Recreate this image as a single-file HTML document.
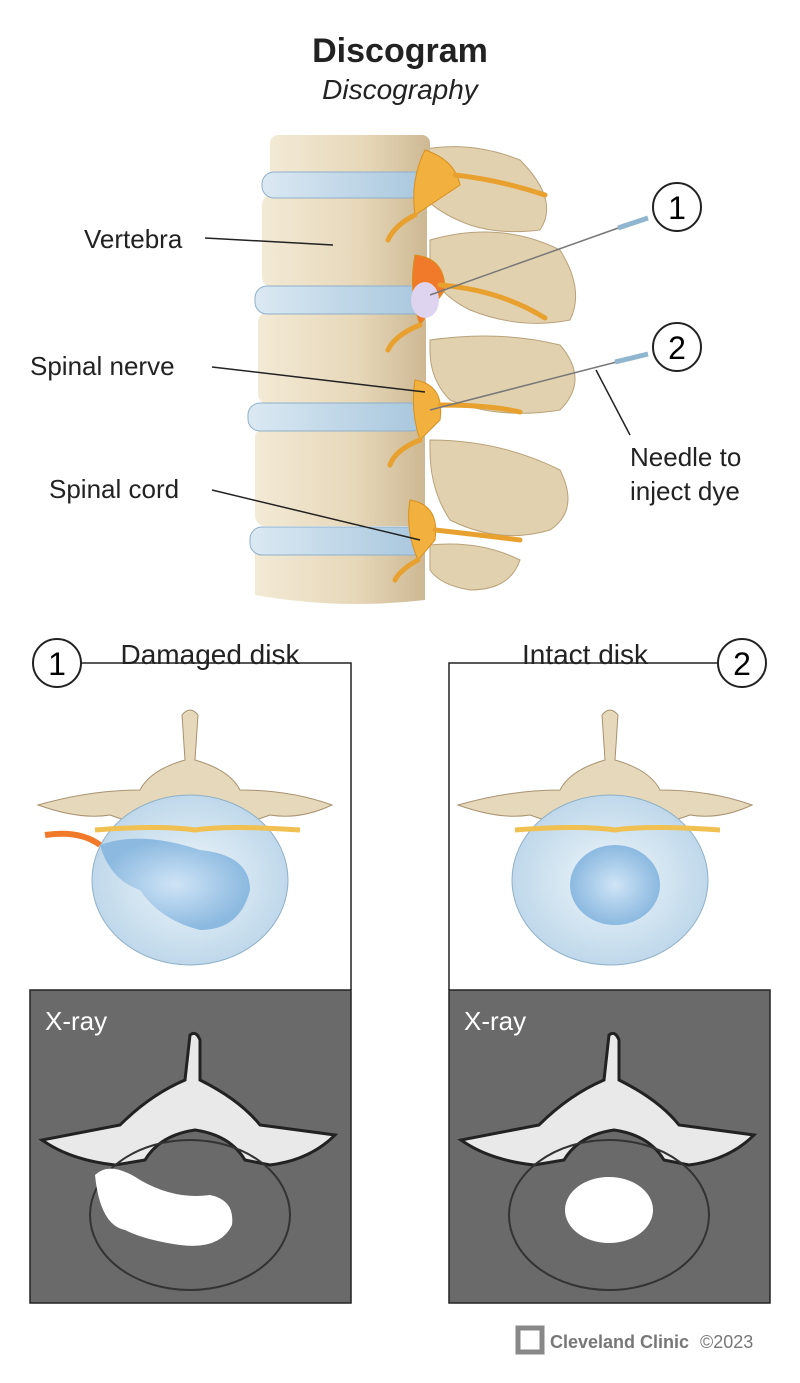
<!DOCTYPE html>
<html><head><meta charset="utf-8"><style>
body{margin:0;background:#fff;}
svg{display:block}
text{font-family:"Liberation Sans",sans-serif;}
</style></head><body>
<svg width="800" height="1383" viewBox="0 0 800 1383" xmlns="http://www.w3.org/2000/svg">
<defs>
<linearGradient id="bone" x1="0" x2="1"><stop offset="0" stop-color="#f3ead6"/><stop offset="0.6" stop-color="#e6d7b8"/><stop offset="1" stop-color="#cdb893"/></linearGradient>
<linearGradient id="disk" x1="0" x2="1"><stop offset="0" stop-color="#dbe9f3"/><stop offset="1" stop-color="#a7c6dd"/></linearGradient>
<radialGradient id="nuc"><stop offset="0" stop-color="#cfe4f6"/><stop offset="1" stop-color="#8bb9e0"/></radialGradient>
<radialGradient id="ann"><stop offset="0" stop-color="#eef6fb"/><stop offset="1" stop-color="#bfd8ea"/></radialGradient>
</defs>
<text x="400" y="62" font-size="34" font-weight="bold" text-anchor="middle" fill="#222">Discogram</text>
<text x="400" y="99" font-size="28" font-style="italic" text-anchor="middle" fill="#222">Discography</text>

<!-- posterior elements -->
<g fill="#e2d1ae" stroke="#b9a27a" stroke-width="1">
<path d="M420 150 Q470 140 520 160 Q560 200 540 230 Q500 235 470 225 Q430 210 420 190Z"/>
<path d="M430 240 Q500 220 560 250 Q585 290 570 320 Q520 330 470 310 Q430 290 430 260Z"/>
<path d="M430 340 Q500 330 560 345 Q590 380 560 410 Q500 420 450 400 Q430 380 430 350Z"/>
<path d="M430 440 Q500 440 560 470 Q580 510 550 530 Q500 545 450 520 Q430 490 430 450Z"/>
<path d="M430 545 Q480 540 520 560 Q510 590 470 590 Q440 585 430 570Z"/>
</g>
<!-- vertebral bodies -->
<g fill="url(#bone)">
<rect x="270" y="135" width="160" height="42" rx="8"/>
<rect x="262" y="195" width="165" height="92" rx="10"/>
<rect x="258" y="312" width="168" height="92" rx="10"/>
<rect x="255" y="428" width="170" height="98" rx="10"/>
<path d="M255 552 L425 552 L425 600 Q340 610 255 595Z"/>
</g>
<g fill="url(#disk)" stroke="#8fb0c8" stroke-width="1">
<rect x="262" y="172" width="168" height="26" rx="12"/>
<rect x="255" y="286" width="172" height="28" rx="12"/>
<rect x="248" y="403" width="176" height="28" rx="12"/>
<rect x="250" y="527" width="176" height="28" rx="12"/>
</g>
<!-- nerves -->
<g fill="#f2b13f" stroke="#d8901e" stroke-width="1">
<path d="M425 150 Q455 160 460 185 L415 215 Q410 180 425 150Z"/>
<path d="M415 255 Q445 258 445 290 L420 325 Q408 290 415 255Z" fill="#f07a2a"/>
<path d="M415 380 Q445 385 440 420 L420 440 Q410 410 415 380Z"/>
<path d="M410 500 Q440 505 435 540 L418 560 Q405 530 410 500Z"/>
</g>
<g fill="none" stroke="#e8a12f" stroke-width="5" stroke-linecap="round">
<path d="M455 175 Q500 180 545 195"/><path d="M415 215 Q395 225 388 240"/>
<path d="M440 285 Q500 290 545 318"/><path d="M420 325 Q395 335 388 350"/>
<path d="M440 405 Q490 405 520 412"/><path d="M420 440 Q395 450 390 465"/>
<path d="M435 530 Q480 535 520 540"/><path d="M418 560 Q400 570 395 580"/>
</g>
<ellipse cx="425" cy="300" rx="14" ry="18" fill="#dfd4ef"/>
<!-- needles -->
<line x1="430" y1="295" x2="635" y2="222" stroke="#777" stroke-width="1.5"/>
<line x1="618" y1="228" x2="648" y2="218" stroke="#8fb5cf" stroke-width="5"/>
<line x1="430" y1="410" x2="632" y2="358" stroke="#777" stroke-width="1.5"/>
<line x1="615" y1="362" x2="648" y2="354" stroke="#8fb5cf" stroke-width="5"/>
<circle cx="677" cy="207" r="24" fill="#fff" stroke="#222" stroke-width="2"/><text x="677" y="219" font-size="32" text-anchor="middle">1</text>
<circle cx="677" cy="347" r="24" fill="#fff" stroke="#222" stroke-width="2"/><text x="677" y="359" font-size="32" text-anchor="middle">2</text>

<!-- labels -->
<g fill="#222" font-size="26">
<text x="84" y="248">Vertebra</text>
<text x="30" y="375">Spinal nerve</text>
<text x="49" y="498">Spinal cord</text>
<text x="630" y="466">Needle to</text>
<text x="630" y="500">inject dye</text>
</g>
<g stroke="#222" stroke-width="1.5" fill="none">
<line x1="205" y1="238" x2="333" y2="245"/>
<line x1="212" y1="367" x2="425" y2="392"/>
<line x1="212" y1="490" x2="420" y2="540"/>
<polyline points="596,370 630,435"/>
</g>

<!-- bottom panels -->
<g stroke="#222" stroke-width="1.5" fill="none">
<polyline points="81,663 351,663 351,990"/>
<polyline points="718,663 449,663 449,990"/>
</g>
<text x="210" y="664" font-size="28" text-anchor="middle" fill="#222">Damaged disk</text>
<text x="585" y="664" font-size="28" text-anchor="middle" fill="#222">Intact disk</text>
<circle cx="57" cy="663" r="24" fill="#fff" stroke="#222" stroke-width="2"/><text x="57" y="675" font-size="32" text-anchor="middle">1</text>
<circle cx="742" cy="663" r="24" fill="#fff" stroke="#222" stroke-width="2"/><text x="742" y="675" font-size="32" text-anchor="middle">2</text>

<!-- axial vertebra drawings -->
<g id="ax">
<path d="M182 715 Q190 705 198 715 L195 760 Q230 770 240 790 Q290 790 332 805 Q300 820 270 815 Q230 830 190 830 Q150 830 110 815 Q80 820 38 805 Q90 790 140 790 Q150 770 185 760Z" fill="#e6d8bb" stroke="#a89270"/>
<path d="M168 800 Q190 790 212 800 L205 830 L175 830Z" fill="#3a2a18"/>
<ellipse cx="190" cy="880" rx="98" ry="85" fill="url(#ann)" stroke="#8fb0c8"/>
<path d="M95 830 Q160 825 195 830 Q230 825 300 830" stroke="#f0c050" stroke-width="5" fill="none"/>
</g>
<use href="#ax" x="420"/>
<path d="M100 845 Q140 830 200 850 Q250 855 250 890 Q240 930 200 930 Q160 920 140 890 Q110 880 100 845Z" fill="url(#nuc)"/>
<path d="M45 835 Q80 830 100 845" stroke="#f07a2a" stroke-width="6" fill="none"/>
<ellipse cx="615" cy="885" rx="45" ry="40" fill="url(#nuc)"/>

<!-- xrays -->
<g id="xr">
<rect x="30" y="990" width="321" height="313" fill="#6a6a6a" stroke="#222" stroke-width="1.5"/>
<path d="M190 1035 Q196 1030 200 1040 L200 1080 Q240 1100 260 1125 L335 1135 Q310 1160 270 1165 L245 1160 Q230 1135 195 1130 Q160 1135 145 1160 L115 1165 Q70 1160 42 1140 L120 1125 Q150 1095 185 1080Z" fill="#e9e9e9" stroke="#222" stroke-width="3"/>
<ellipse cx="190" cy="1215" rx="100" ry="75" fill="none" stroke="#333" stroke-width="2"/>
<text x="45" y="1030" font-size="26" fill="#fff">X-ray</text>
</g>
<use href="#xr" x="419"/>
<path d="M95 1175 Q110 1160 140 1180 Q175 1200 210 1195 Q235 1200 232 1225 Q220 1250 180 1245 Q145 1240 125 1230 Q100 1225 95 1175Z" fill="#fff"/>
<ellipse cx="609" cy="1210" rx="44" ry="33" fill="#fff"/>

<!-- footer -->
<rect x="518" y="1328" width="24" height="24" fill="none" stroke="#888" stroke-width="5"/>
<text x="550" y="1348" font-size="18" font-weight="bold" fill="#777">Cleveland Clinic</text>
<text x="700" y="1348" font-size="18" fill="#777">©2023</text>
</svg>
</body></html>
